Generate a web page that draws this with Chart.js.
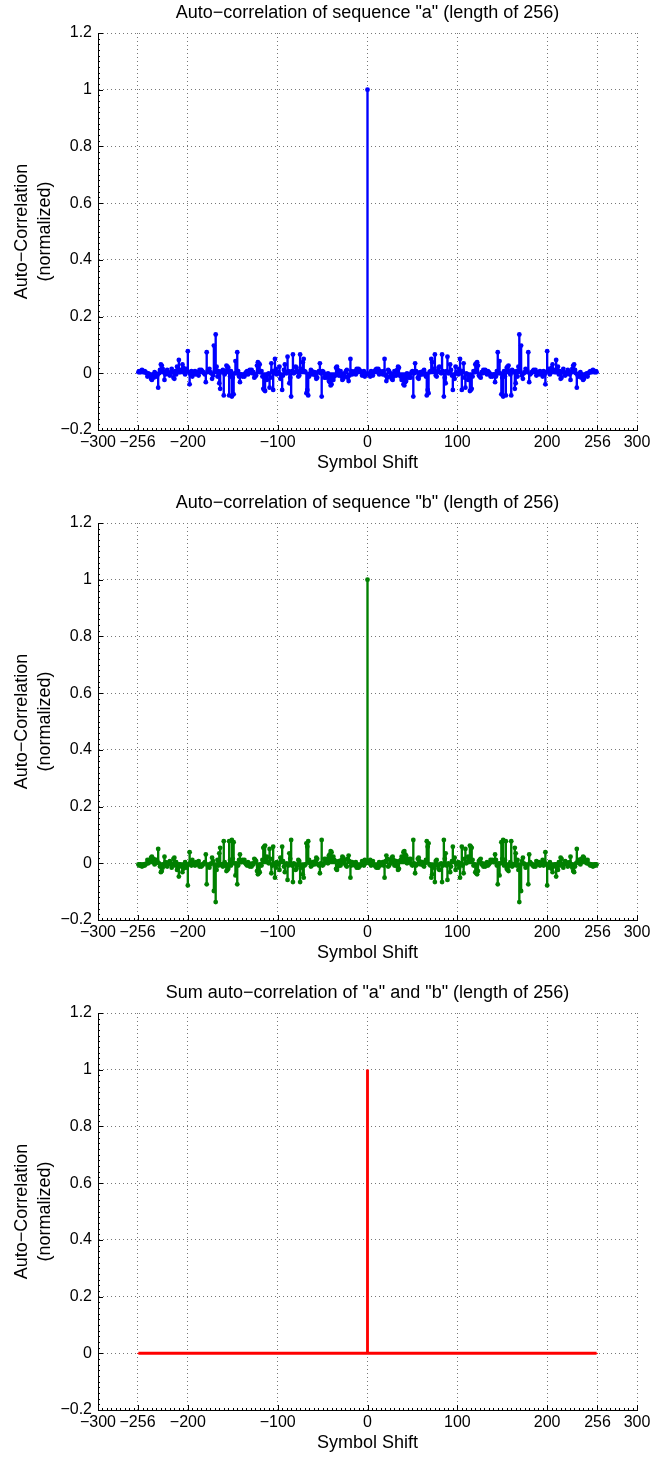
<!DOCTYPE html>
<html lang="en">
<head>
<meta charset="UTF-8">
<title>Auto-correlation of sequences a and b (length 256)</title>
<script src="https://cdn.jsdelivr.net/npm/chart.js"></script>
<style>
  body { margin: 0; background: #fff; }
  .page { width: 671px; height: 1458px; overflow: hidden; }
  canvas { display: block; }
</style>
</head>
<body>
<div class="page">
  <canvas id="chartA" width="671" height="490"></canvas>
  <canvas id="chartB" width="671" height="490"></canvas>
  <canvas id="chartSum" width="671" height="490"></canvas>
</div>
<script>
const SEQ_LEN = 256;
const xTickValues = [-300, -256, -200, -100, 0, 100, 200, 256, 300];
const yTickValues = [-0.2, 0, 0.2, 0.4, 0.6, 0.8, 1, 1.2];
const peakCount = 256;

// correlation counts at shifts 1..255 (plotted value = count / 256),
// negative shifts are the mirror image
const countsA = [
  -1, 0, -3, 2, 1, -2, 1, 2, 3, 4, 3, 4, -1, 2, 1,
  0, -1, 2, 13, -2, -7, -4, 3, 2, -3, 0, -5, -6, -3, 2,
  1, -2, 3, 6, 5, -2, -3, -6, -5, -10, -11, -8, -7, 0, -3,
  -4, -1, -4, 1, 2, -21, 0, 9, 2, 1, -4, -5, -2, 1, 0,
  -1, 2, 3, 0, -3, -20, -15, -18, 1, 2, 13, 10, 3, 4, 17,
  -2, -3, 2, 5, 6, 1, 0, 17, 2, -21, -4, -9, 2, 15, 0,
  1, 8, 3, -2, -15, -2, -5, 6, 1, 0, -1, 4, 13, 0, -15,
  2, 9, -4, -13, 0, -1, -6, -3, -16, -15, -14, -3, 2, 1, 8,
  9, 10, 7, -2, -3, -4, 1, 0, 3, 2, 3, 0, -1, 2, 1,
  0, -3, -2, -3, -2, -1, -8, -3, 2, 19, 0, 11, 0, -19, -4,
  -21, 2, -3, -20, 5, 6, 7, 2, -1, -20, 3, 2, 1, -14, -9,
  2, -3, 6, 35, 2, 25, -2, -5, 0, 1, 4, 3, 2, 19, -8,
  -1, 0, 1, 2, 3, 2, 3, -2, 1, 0, -1, 2, 1, 0, -3,
  2, -1, -10, 1, 20, 3, 4, -1, 2, 5, 8, 3, 2, 1, 12,
  5, 6, -1, 2, -5, -4, 1, 4, 1, -2, -1, 0, 3, 2, -1,
  -6, 1, 4, 7, 8, 3, 0, -13, -2, -3, 0, 1, -4, -3, -6,
  -5, -2, -1, 0, -3, 0, 1, 2, 1, 2, 3, 2, 1, 2, 1
];

const countsB = [
  1, 0, 3, -2, -1, 2, -1, -2, -3, -4, -3, -4, 1, -2, -1,
  0, 1, -2, -13, 2, 7, 4, -3, -2, 3, 0, 5, 6, 3, -2,
  -1, 2, -3, -6, -5, 2, 3, 6, 5, 10, 11, 8, 7, 0, 3,
  4, 1, 4, -1, -2, 21, 0, -9, -2, -1, 4, 5, 2, -1, 0,
  1, -2, -3, 0, 3, 20, 15, 18, -1, -2, -13, -10, -3, -4, -17,
  2, 3, -2, -5, -6, -1, 0, -17, -2, 21, 4, 9, -2, -15, 0,
  -1, -8, -3, 2, 15, 2, 5, -6, -1, 0, 1, -4, -13, 0, 15,
  -2, -9, 4, 13, 0, 1, 6, 3, 16, 15, 14, 3, -2, -1, -8,
  -9, -10, -7, 2, 3, 4, -1, 0, -3, -2, -3, 0, 1, -2, -1,
  0, 3, 2, 3, 2, 1, 8, 3, -2, -19, 0, -11, 0, 19, 4,
  21, -2, 3, 20, -5, -6, -7, -2, 1, 20, -3, -2, -1, 14, 9,
  -2, 3, -6, -35, -2, -25, 2, 5, 0, -1, -4, -3, -2, -19, 8,
  1, 0, -1, -2, -3, -2, -3, 2, -1, 0, 1, -2, -1, 0, 3,
  -2, 1, 10, -1, -20, -3, -4, 1, -2, -5, -8, -3, -2, -1, -12,
  -5, -6, 1, -2, 5, 4, -1, -4, -1, 2, 1, 0, -3, -2, 1,
  6, -1, -4, -7, -8, -3, 0, 13, 2, 3, 0, -1, 4, 3, 6,
  5, 2, 1, 0, 3, 0, -1, -2, -1, -2, -3, -2, -1, -2, -1
];

const countsSum = [
  0, 0, 0, 0, 0, 0, 0, 0, 0, 0, 0, 0, 0, 0, 0,
  0, 0, 0, 0, 0, 0, 0, 0, 0, 0, 0, 0, 0, 0, 0,
  0, 0, 0, 0, 0, 0, 0, 0, 0, 0, 0, 0, 0, 0, 0,
  0, 0, 0, 0, 0, 0, 0, 0, 0, 0, 0, 0, 0, 0, 0,
  0, 0, 0, 0, 0, 0, 0, 0, 0, 0, 0, 0, 0, 0, 0,
  0, 0, 0, 0, 0, 0, 0, 0, 0, 0, 0, 0, 0, 0, 0,
  0, 0, 0, 0, 0, 0, 0, 0, 0, 0, 0, 0, 0, 0, 0,
  0, 0, 0, 0, 0, 0, 0, 0, 0, 0, 0, 0, 0, 0, 0,
  0, 0, 0, 0, 0, 0, 0, 0, 0, 0, 0, 0, 0, 0, 0,
  0, 0, 0, 0, 0, 0, 0, 0, 0, 0, 0, 0, 0, 0, 0,
  0, 0, 0, 0, 0, 0, 0, 0, 0, 0, 0, 0, 0, 0, 0,
  0, 0, 0, 0, 0, 0, 0, 0, 0, 0, 0, 0, 0, 0, 0,
  0, 0, 0, 0, 0, 0, 0, 0, 0, 0, 0, 0, 0, 0, 0,
  0, 0, 0, 0, 0, 0, 0, 0, 0, 0, 0, 0, 0, 0, 0,
  0, 0, 0, 0, 0, 0, 0, 0, 0, 0, 0, 0, 0, 0, 0,
  0, 0, 0, 0, 0, 0, 0, 0, 0, 0, 0, 0, 0, 0, 0,
  0, 0, 0, 0, 0, 0, 0, 0, 0, 0, 0, 0, 0, 0, 0
];

Chart.defaults.font.family = '"Liberation Sans", Arial, Helvetica, sans-serif';
Chart.defaults.font.size = 16;
Chart.defaults.color = '#000';

const minus = s => String(s).replace('-', '\u2212');

// shifts -255..255 with the normalized correlation
function buildPoints(half) {
  const pts = [];
  for (let k = half.length; k >= 1; k--) pts.push({ x: -k, y: half[k - 1] / SEQ_LEN });
  pts.push({ x: 0, y: peakCount / SEQ_LEN });
  for (let k = 1; k <= half.length; k++) pts.push({ x: k, y: half[k - 1] / SEQ_LEN });
  return pts;
}

// MATLAB style ticks pointing into the plot
const inwardTicks = {
  id: 'inwardTicks',
  afterDraw(chart) {
    const { ctx, chartArea: a, scales: { x, y } } = chart;
    ctx.save();
    ctx.strokeStyle = '#000';
    ctx.lineWidth = 1;
    ctx.beginPath();
    for (let v = -300; v <= 300; v += 5) {
      const px = Math.round(x.getPixelForValue(v)) + 0.5;
      ctx.moveTo(px, a.bottom); ctx.lineTo(px, a.bottom - 2);
    }
    for (let v = -20; v <= 120; v += 2) {
      const py = Math.round(y.getPixelForValue(v / 100)) + 0.5;
      ctx.moveTo(a.left, py); ctx.lineTo(a.left + 2, py);
    }
    xTickValues.forEach(v => {
      const px = Math.round(x.getPixelForValue(v)) + 0.5;
      ctx.moveTo(px, a.bottom); ctx.lineTo(px, a.bottom - 5);
    });
    yTickValues.forEach(v => {
      const py = Math.round(y.getPixelForValue(v)) + 0.5;
      ctx.moveTo(a.left, py); ctx.lineTo(a.left + 5, py);
    });
    ctx.stroke();
    ctx.restore();
  }
};

function makeChart(id, titleText, half, color, showMarkers) {
  const pts = buildPoints(half);
  return new Chart(document.getElementById(id), {
    type: 'scatter',
    data: {
      datasets: [
        {
          type: 'line',
          data: [{ x: -255, y: 0 }, { x: 255, y: 0 }],
          borderColor: color,
          borderWidth: showMarkers ? 2 : 3,
          pointRadius: 0,
          order: 3
        },
        {
          type: 'bar',
          data: pts.map(p => ({ x: p.x, y: [0, p.y] })),
          backgroundColor: color,
          borderWidth: 0,
          barThickness: showMarkers ? 1.7 : 2.2,
          order: 2
        },
        {
          type: 'scatter',
          data: pts,
          backgroundColor: color,
          borderWidth: 0,
          pointRadius: showMarkers ? 2.4 : 0,
          order: 1
        }
      ]
    },
    options: {
      responsive: false,
      animation: false,
      events: [],
      layout: { padding: { left: 0, right: 34, top: 0, bottom: 0 } },
      plugins: {
        legend: { display: false },
        tooltip: { enabled: false },
        title: {
          display: true,
          text: titleText,
          fullSize: false,
          font: { size: 18, weight: 'normal', lineHeight: 1.2 },
          padding: { top: 2, bottom: 9.4 }
        }
      },
      scales: {
        x: {
          type: 'linear',
          min: -300,
          max: 300,
          offset: false,
          afterBuildTicks: s => { s.ticks = xTickValues.map(v => ({ value: v })); },
          afterFit: s => { s.height = 60; },
          ticks: { autoSkip: false, maxRotation: 0, padding: 3, callback: v => minus(v) },
          grid: { color: '#777', lineWidth: 1, drawTicks: false, offset: false },
          border: { display: true, color: '#000', width: 1, dash: [1, 3] },
          title: { display: true, text: 'Symbol Shift', font: { size: 18, lineHeight: 1.2 }, padding: { top: 0, bottom: 16 } }
        },
        y: {
          min: -0.2,
          max: 1.2,
          afterBuildTicks: s => { s.ticks = yTickValues.map(v => ({ value: v })); },
          afterFit: s => { s.width = 98; },
          ticks: { padding: 6, callback: v => minus(Math.round(v * 10) / 10) },
          grid: { color: '#777', lineWidth: 1, drawTicks: false },
          border: { display: true, color: '#000', width: 1, dash: [1, 3] },
          title: {
            display: true,
            text: ['Auto\u2212Correlation', '(normalized)'],
            font: { size: 18, lineHeight: 1.25 },
            padding: { top: 11, bottom: 0 }
          }
        }
      }
    },
    plugins: [inwardTicks]
  });
}

makeChart('chartA', 'Auto\u2212correlation of sequence "a" (length of 256)', countsA, '#0000ff', true);
makeChart('chartB', 'Auto\u2212correlation of sequence "b" (length of 256)', countsB, '#008000', true);
makeChart('chartSum', 'Sum auto\u2212correlation of "a" and "b" (length of 256)', countsSum, '#ff0000', false);
</script>
</body>
</html>
